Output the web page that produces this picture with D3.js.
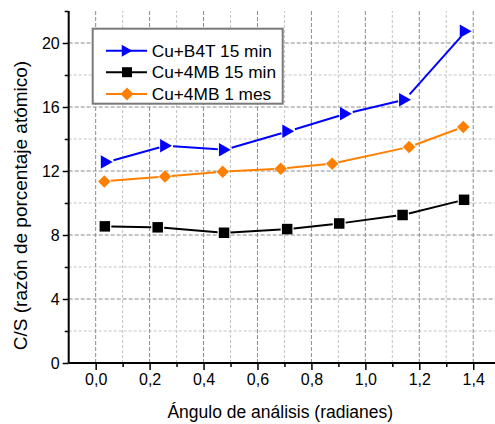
<!DOCTYPE html>
<html><head><meta charset="utf-8">
<script src="https://cdn.jsdelivr.net/npm/d3@7"></script>
<style>html,body{margin:0;padding:0;background:#fff;overflow:hidden}svg{display:block}</style>
</head><body>
<svg id="c" width="495" height="424"></svg>
<script>
// ---- data ----
const seriesNames = ["Cu+B4T 15 min", "Cu+4MB 15 min", "Cu+4MB 1 mes"];
const b4tX = [0.041, 0.261, 0.479, 0.714, 0.928, 1.147, 1.372];
const b4tY = [12.56, 13.58, 13.33, 14.48, 15.58, 16.46, 20.73];
const mb15X = [0.034, 0.230, 0.476, 0.710, 0.903, 1.138, 1.366];
const mb15Y = [8.54, 8.48, 8.14, 8.37, 8.72, 9.25, 10.2];
const mb1X = [0.032, 0.257, 0.471, 0.686, 0.877, 1.162, 1.363];
const mb1Y = [11.35, 11.66, 11.96, 12.14, 12.46, 13.5, 14.75];
const xTickValues = [0, 0.2, 0.4, 0.6, 0.8, 1.0, 1.2, 1.4];
const xMinorValues = [0.1, 0.3, 0.5, 0.7, 0.9, 1.1, 1.3, 1.5];
const yTickValues = [0, 4, 8, 12, 16, 20];
const yMinorValues = [2, 6, 10, 14, 18, 22];
const xTitle = "Ángulo de análisis (radianes)";
const yTitle = "C/S (razón de porcentaje atómico)";

const svg = d3.select("#c");
const font = "'Liberation Sans', Arial, sans-serif";
const x = d3.scaleLinear().domain([-0.1, 1.5]).range([68.7, 500.2]);
const y = d3.scaleLinear().domain([0, 22]).range([363, 11]);
const fmt = d => d3.format(".1f")(d).replace(".", ",");

// grid
const g = svg.append("g");
g.selectAll(".vmin").data(xMinorValues).join("line")
  .attr("x1", d => x(d)).attr("x2", d => x(d)).attr("y1", y(0)).attr("y2", y(22))
  .attr("stroke", "#c4c4c4").attr("stroke-width", 1).attr("stroke-dasharray", "3,2");
g.selectAll(".hmin").data(yMinorValues.filter(v => v < 22)).join("line")
  .attr("x1", x(-0.1)).attr("x2", 495).attr("y1", d => y(d)).attr("y2", d => y(d))
  .attr("stroke", "#c4c4c4").attr("stroke-width", 1).attr("stroke-dasharray", "3,2");
g.selectAll(".vmaj").data(xTickValues).join("line")
  .attr("x1", d => x(d)).attr("x2", d => x(d)).attr("y1", y(0)).attr("y2", y(22))
  .attr("stroke", "#8c8c8c").attr("stroke-width", 1).attr("stroke-dasharray", "4,2");
g.selectAll(".hmaj").data(yTickValues.filter(v => v > 0)).join("line")
  .attr("x1", x(-0.1)).attr("x2", 495).attr("y1", d => y(d)).attr("y2", d => y(d))
  .attr("stroke", "#8c8c8c").attr("stroke-width", 1).attr("stroke-dasharray", "4,2");

// axes
const xAxis = svg.append("g").attr("transform", `translate(0,${y(0)})`)
  .call(d3.axisBottom(x).tickValues(xTickValues).tickFormat(fmt).tickSize(7).tickPadding(4));
const xMin = svg.append("g").attr("transform", `translate(0,${y(0)})`)
  .call(d3.axisBottom(x).tickValues(xMinorValues).tickFormat("").tickSize(4));
const yAxis = svg.append("g").attr("transform", `translate(${x(-0.1)},0)`)
  .call(d3.axisLeft(y).tickValues(yTickValues).tickFormat(d3.format("d")).tickSize(6).tickPadding(3));
const yMin = svg.append("g").attr("transform", `translate(${x(-0.1)},0)`)
  .call(d3.axisLeft(y).tickValues(yMinorValues).tickFormat("").tickSize(4));
[xAxis, xMin, yAxis, yMin].forEach(a => {
  a.select(".domain").attr("stroke", "#000").attr("stroke-width", 2);
  a.selectAll(".tick line").attr("stroke", "#000").attr("stroke-width", 1.5);
  a.selectAll("text").attr("font-family", font).attr("font-size", "16px").attr("fill", "#000");
});
xMin.select(".domain").remove();
yMin.select(".domain").remove();
xAxis.select(".domain").attr("d", `M${x(-0.1)},0H495`);
yAxis.select(".domain").attr("d", `M0,${y(0)}V${y(22)}`);

// titles
svg.append("text").attr("x", 280.3).attr("y", 418).attr("text-anchor", "middle")
  .attr("font-family", font).attr("font-size", "17.5px").text(xTitle);
svg.append("text").attr("transform", "translate(26.5,205.5) rotate(-90)").attr("text-anchor", "middle")
  .attr("font-family", font).attr("font-size", "19px").text(yTitle);

// markers
const tri = (cx, cy, s) => { const w = s * 0.88, h = s; return `M${cx - w / 2},${cy - h / 2}L${cx + w / 2},${cy}L${cx - w / 2},${cy + h / 2}Z`; };
const sq = (cx, cy, s) => `M${cx - s / 2},${cy - s / 2}h${s}v${s}h${-s}Z`;
const dia = (cx, cy, s) => `M${cx},${cy - s / 2}L${cx + s / 2},${cy}L${cx},${cy + s / 2}L${cx - s / 2},${cy}Z`;

const series = [
  { xs: b4tX, ys: b4tY, color: "#0000ff", shape: tri, size: 13.5, gap: 7 },
  { xs: mb15X, ys: mb15Y, color: "#000000", shape: sq, size: 10.5, gap: 6.5 },
  { xs: mb1X, ys: mb1Y, color: "#ff8000", shape: dia, size: 12.5, gap: 6.5 }
];
const order = [1, 2, 0];
order.forEach(i => {
  const s = series[i];
  const pts = s.xs.map((v, k) => [x(v), y(s.ys[k])]);
  const segs = [];
  for (let k = 0; k < pts.length - 1; k++) {
    const [x1, y1] = pts[k], [x2, y2] = pts[k + 1];
    const L = Math.hypot(x2 - x1, y2 - y1);
    const ux = (x2 - x1) / L, uy = (y2 - y1) / L;
    segs.push([x1 + ux * s.gap, y1 + uy * s.gap, x2 - ux * s.gap, y2 - uy * s.gap]);
  }
  svg.append("g").selectAll("line").data(segs).join("line")
    .attr("x1", d => d[0]).attr("y1", d => d[1]).attr("x2", d => d[2]).attr("y2", d => d[3])
    .attr("stroke", s.color).attr("stroke-width", 2);
  svg.append("g").selectAll("path").data(pts).join("path")
    .attr("d", d => s.shape(d[0], d[1], s.size)).attr("fill", s.color);
});

// legend
const lg = svg.append("g");
lg.append("rect").attr("x", 92.7).attr("y", 28.7).attr("width", 190).attr("height", 75)
  .attr("fill", "#fff").attr("stroke", "#7a7a7a").attr("stroke-width", 2);
const rowY = [50.7, 72.2, 94];
const legSizes = [12, 10, 13];
seriesNames.forEach((name, i) => {
  const s = series[i];
  lg.append("line").attr("x1", 106).attr("x2", 147).attr("y1", rowY[i]).attr("y2", rowY[i])
    .attr("stroke", s.color).attr("stroke-width", 2);
  lg.append("path").attr("d", s.shape(127, rowY[i], legSizes[i])).attr("fill", s.color);
  lg.append("text").attr("x", 151.7).attr("y", rowY[i] + 6.2)
    .attr("font-family", font).attr("font-size", "17.3px").text(name);
});
</script>
</body></html>
